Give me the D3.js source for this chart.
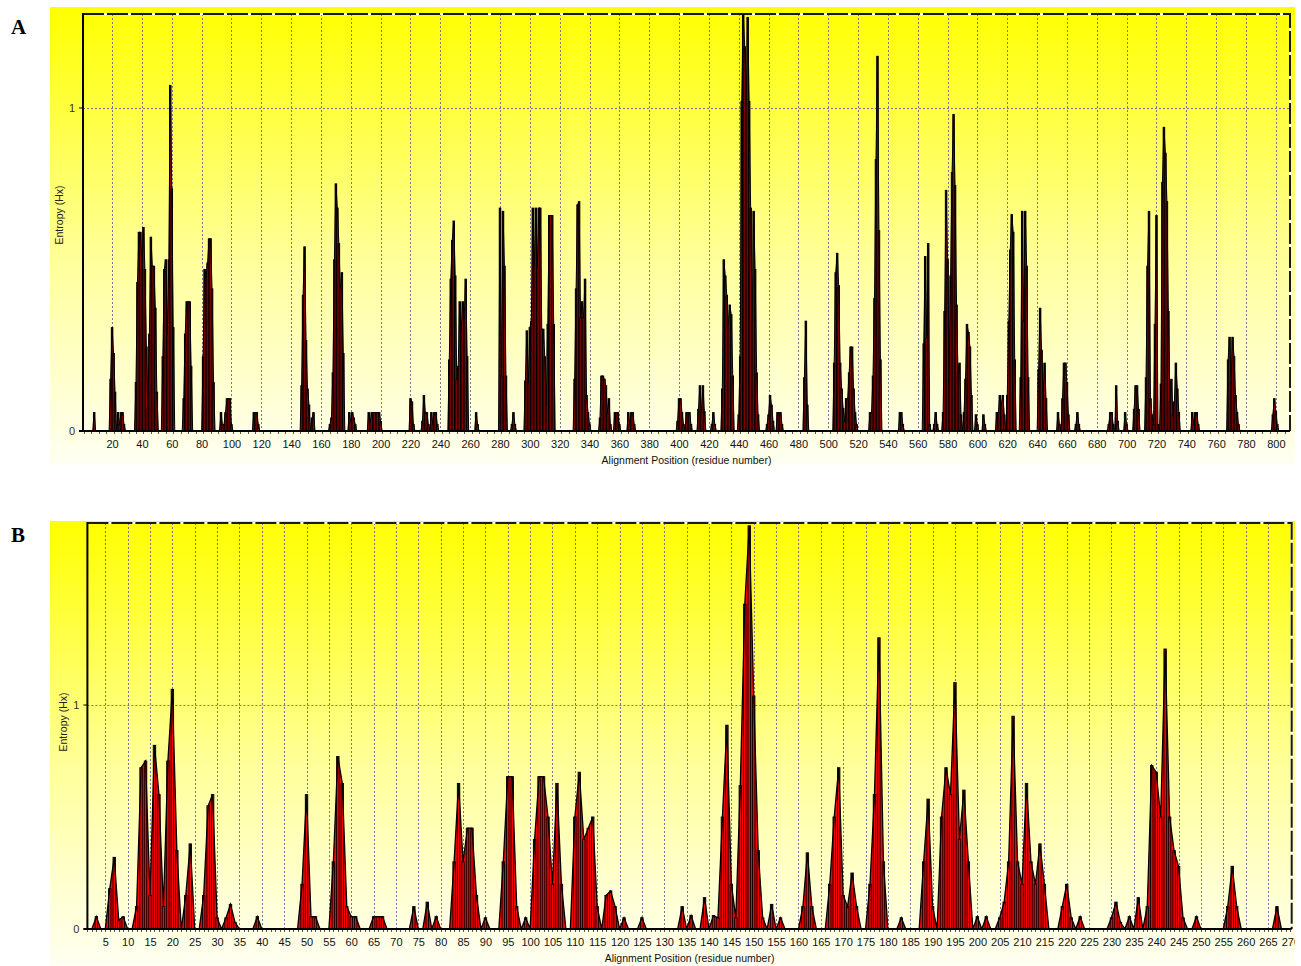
<!DOCTYPE html>
<html>
<head>
<meta charset="utf-8">
<script src="https://cdn.jsdelivr.net/npm/d3@7"></script>
<style>
  body { margin: 0; background: #fff; }
  svg { display: block; font-family: "Liberation Sans", Arial, sans-serif; }
</style>
</head>
<body>
<svg id="chart" width="1301" height="966"></svg>
<script>
// Panel A: entropy per alignment position (non-zero positions only)
const entropyA = [
  [8,0.057],
  [19,0.16],[20,0.32],[21,0.24],[22,0.12],
  [24,0.057],[25,0.02],[26,0.057],[27,0.057],[28,0.02],
  [36,0.15],[37,0.46],[38,0.615],[39,0.615],[40,0.5],[41,0.63],[42,0.5],[43,0.26],[44,0.07],
  [45,0.30],[46,0.6],[47,0.51],[48,0.51],[49,0.38],[50,0.12],
  [54,0.23],[55,0.5],[56,0.53],[57,0.3],[58,0.53],[59,1.07],[60,0.75],[61,0.32],
  [68,0.1],[69,0.3],[70,0.4],[71,0.4],[72,0.4],[73,0.2],
  [81,0.23],[82,0.5],[83,0.48],[84,0.52],[85,0.595],[86,0.595],[87,0.44],[88,0.15],
  [93,0.057],[94,0.02],[95,0.02],[96,0.057],[97,0.1],[98,0.1],[99,0.1],[100,0.02],
  [115,0.057],[116,0.057],[117,0.057],[118,0.02],
  [147,0.14],[148,0.42],[149,0.57],[150,0.28],[151,0.13],[152,0.08],
  [154,0.04],[155,0.057],
  [166,0.02],[167,0.04],[168,0.18],[169,0.53],[170,0.765],[171,0.69],[172,0.58],[173,0.44],[174,0.49],[175,0.24],
  [179,0.057],[180,0.03],[181,0.057],[182,0.04],[183,0.02],
  [192,0.057],[193,0.03],[194,0.057],[195,0.057],[196,0.057],[197,0.057],[198,0.057],[199,0.057],[200,0.03],
  [220,0.1],[221,0.09],[222,0.02],
  [228,0.03],[229,0.11],[230,0.057],[231,0.057],[232,0.02],
  [234,0.057],[235,0.02],[236,0.057],[237,0.057],[238,0.02],
  [246,0.22],[247,0.47],[248,0.59],[249,0.65],[250,0.48],[251,0.16],
  [252,0.2],[253,0.4],[254,0.31],[255,0.4],[256,0.35],[257,0.47],[258,0.23],
  [264,0.057],[265,0.02],
  [280,0.69],[281,0.17],[282,0.68],[283,0.51],[284,0.17],
  [288,0.02],[289,0.057],[290,0.02],
  [297,0.155],[298,0.31],[299,0.15],[300,0.32],[301,0.34],[302,0.69],[303,0.51],[304,0.69],[305,0.51],
  [306,0.69],[307,0.69],[308,0.315],[309,0.315],[310,0.23],[311,0.08],
  [312,0.33],[313,0.667],[314,0.667],[315,0.667],[316,0.33],
  [330,0.16],[331,0.44],[332,0.70],[333,0.71],[334,0.35],[335,0.40],[336,0.35],[337,0.47],[338,0.11],[339,0.057],[340,0.02],
  [347,0.04],[348,0.17],[349,0.17],[350,0.16],[351,0.14],[352,0.057],[353,0.1],[354,0.02],
  [357,0.057],[358,0.057],[359,0.057],[360,0.02],
  [366,0.057],[367,0.02],[368,0.057],[369,0.057],[370,0.02],
  [399,0.03],[400,0.1],[401,0.1],[402,0.057],[403,0.02],
  [405,0.057],[406,0.057],[407,0.057],[408,0.02],
  [413,0.067],[414,0.14],[415,0.06],[416,0.14],[417,0.06],
  [422,0.02],[423,0.057],[424,0.02],
  [429,0.13],[430,0.53],[431,0.48],[432,0.42],[433,0.33],[434,0.39],[435,0.36],[436,0.17],
  [440,0.05],[441,0.23],[442,1.02],[443,1.29],[444,1.19],[445,1.01],[446,1.28],[447,1.02],[448,0.69],
  [449,0.34],[450,0.68],[451,0.5],[452,0.18],[453,0.05],
  [459,0.02],[460,0.05],[461,0.11],[462,0.08],[463,0.03],
  [466,0.057],[467,0.057],[468,0.057],[469,0.02],
  [484,0.165],[485,0.34],[486,0.08],
  [504,0.21],[505,0.49],[506,0.55],[507,0.45],[508,0.21],[509,0.13],[510,0.07],[511,0.03],[512,0.1],
  [513,0.1],[514,0.18],[515,0.26],[516,0.26],[517,0.13],[518,0.057],[519,0.02],
  [528,0.057],[529,0.057],[530,0.17],[531,0.41],[532,0.84],[533,1.16],[534,0.62],[535,0.22],
  [548,0.057],[549,0.057],[550,0.02],
  [564,0.27],[565,0.54],[566,0.29],[567,0.58],[568,0.02],
  [571,0.02],[572,0.057],[573,0.02],
  [577,0.057],[578,0.37],[579,0.745],[580,0.53],[581,0.155],[582,0.48],[583,0.8],[584,0.98],[585,0.76],
  [586,0.39],[587,0.18],[588,0.21],[589,0.05],
  [591,0.057],[592,0.16],[593,0.33],[594,0.305],[595,0.26],[596,0.11],
  [599,0.05],[600,0.02],[604,0.05],[605,0.02],
  [613,0.057],[614,0.057],[615,0.11],[616,0.08],[617,0.11],[618,0.05],
  [620,0.11],[621,0.34],[622,0.56],[623,0.67],[624,0.615],[625,0.22],
  [629,0.165],[630,0.68],[631,0.34],[632,0.68],[633,0.51],[634,0.165],
  [641,0.19],[642,0.38],[643,0.25],[644,0.1],[645,0.21],[646,0.1],
  [654,0.057],[655,0.02],
  [657,0.1],[658,0.21],[659,0.21],[660,0.15],[661,0.05],
  [666,0.02],[667,0.057],[668,0.02],
  [688,0.02],[689,0.057],[690,0.057],[691,0.02],[693,0.14],[694,0.03],
  [699,0.057],[700,0.02],
  [705,0.067],[706,0.14],[707,0.14],[708,0.067],
  [713,0.165],[714,0.51],[715,0.68],[716,0.1],[717,0.05],[718,0.02],[719,0.33],[720,0.667],[721,0.02],
  [723,0.145],[724,0.77],[725,0.94],[726,0.86],[727,0.71],[728,0.37],[729,0.09],[730,0.16],[731,0.05],
  [732,0.09],[733,0.21],[734,0.13],[735,0.057],
  [744,0.057],[745,0.02],[746,0.057],[747,0.057],[748,0.02],
  [768,0.22],[769,0.29],[770,0.15],[771,0.29],[772,0.23],[773,0.11],[774,0.057],[775,0.02],
  [798,0.05],[799,0.1],[800,0.06],[801,0.02]
];

// Panel B
const entropyB = [
  [3,0.055],
  [6,0.18],[7,0.32],[8,0.04],[9,0.055],
  [12,0.1],[13,0.72],[14,0.75],[15,0.15],[16,0.82],[17,0.6],[18,0.1],[19,0.75],[20,1.07],[21,0.35],
  [23,0.15],[24,0.38],
  [27,0.15],[28,0.55],[29,0.6],[30,0.05],
  [32,0.05],[33,0.11],[34,0.03],
  [39,0.055],
  [49,0.2],[50,0.6],[51,0.055],[52,0.055],
  [56,0.3],[57,0.77],[58,0.65],[59,0.1],[60,0.055],[61,0.055],
  [65,0.055],[66,0.055],[67,0.055],
  [74,0.1],[77,0.12],[79,0.055],
  [83,0.3],[84,0.65],[85,0.3],[86,0.45],[87,0.45],[88,0.15],
  [90,0.05],
  [94,0.3],[95,0.68],[96,0.68],[97,0.1],
  [99,0.05],
  [101,0.4],[102,0.68],[103,0.68],[104,0.5],[105,0.2],[106,0.65],[107,0.2],
  [110,0.5],[111,0.7],[112,0.4],[113,0.45],[114,0.5],[115,0.1],
  [117,0.15],[118,0.17],[119,0.1],
  [121,0.05],[125,0.05],
  [134,0.1],[136,0.06],[139,0.14],[141,0.06],
  [142,0.05],[143,0.5],[144,0.91],[145,0.2],
  [146,0.05],[147,0.64],[148,1.45],[149,1.80],[150,1.04],[151,0.35],[152,0.05],
  [154,0.11],[156,0.05],
  [161,0.1],[162,0.34],[163,0.1],
  [167,0.2],[168,0.5],[169,0.72],[170,0.15],[171,0.1],[172,0.25],[173,0.1],
  [176,0.2],[177,0.6],[178,1.3],[179,0.3],
  [183,0.05],
  [188,0.3],[189,0.58],[190,0.1],
  [192,0.5],[193,0.72],[194,0.6],[195,1.1],[196,0.4],[197,0.62],[198,0.3],
  [200,0.055],[202,0.055],
  [205,0.05],[206,0.12],[207,0.3],[208,0.95],[209,0.3],[210,0.2],[211,0.65],[212,0.3],
  [213,0.2],[214,0.38],[215,0.2],
  [219,0.1],[220,0.2],[221,0.05],[223,0.055],
  [230,0.05],[231,0.12],[232,0.03],[234,0.055],[236,0.14],
  [238,0.1],[239,0.73],[240,0.7],[241,0.5],[242,1.25],[243,0.5],[244,0.35],[245,0.28],[246,0.05],
  [249,0.055],
  [256,0.1],[257,0.28],[258,0.1],
  [267,0.1]
];

const ticksA = d3.range(20, 801, 20);
const ticksB = d3.range(5, 271, 5);
const yTicks = [0, 1];

const svg = d3.select("#chart");
const defs = svg.append("defs");

const grad = defs.append("linearGradient")
  .attr("id", "bgGrad").attr("x1", 0).attr("y1", 0).attr("x2", 0).attr("y2", 1);
grad.append("stop").attr("offset", "0%").attr("stop-color", "#ffff00");
grad.append("stop").attr("offset", "55%").attr("stop-color", "#ffff9a");
grad.append("stop").attr("offset", "100%").attr("stop-color", "#fffff2");

function expand(pairs, n) {
  const m = new Map(pairs);
  return d3.range(1, n + 1).map((p) => ({ pos: p, v: m.get(p) || 0 }));
}

function drawPanel(cfg) {
  const g = svg.append("g");
  const clipId = "clip" + cfg.label;
  defs.append("clipPath").attr("id", clipId)
    .append("rect")
    .attr("x", cfg.bg.x).attr("y", cfg.bg.y)
    .attr("width", cfg.bg.w).attr("height", cfg.bg.h);

  g.append("rect")
    .attr("x", cfg.bg.x).attr("y", cfg.bg.y)
    .attr("width", cfg.bg.w).attr("height", cfg.bg.h)
    .attr("fill", "url(#bgGrad)");

  const p = cfg.plot;
  const x = d3.scaleLinear().domain(cfg.xDomain).range([p.left, p.right]);
  const y = d3.scaleLinear().domain([0, cfg.yMax]).range([p.bottom, p.top]);

  // grid
  g.append("g").selectAll("line").data(cfg.ticks.filter((d) => x(d) < p.right - 3)).join("line")
    .attr("x1", (d) => Math.round(x(d)) + 0.5).attr("x2", (d) => Math.round(x(d)) + 0.5)
    .attr("y1", p.top).attr("y2", p.bottom)
    .attr("stroke", "#76769a").attr("stroke-width", 1).attr("stroke-dasharray", "2,2");
  g.append("line")
    .attr("x1", p.left).attr("x2", p.right)
    .attr("y1", Math.round(y(1)) + 0.5).attr("y2", Math.round(y(1)) + 0.5)
    .attr("stroke", "#76769a").attr("stroke-width", 1).attr("stroke-dasharray", "2,2");

  // frame: dashed top and right
  g.append("path")
    .attr("d", `M${p.left},${p.top}H${p.right}V${p.bottom}`)
    .attr("fill", "none").attr("stroke", "#fff").attr("stroke-width", 2);
  g.append("path")
    .attr("d", `M${p.left},${p.top}H${p.right}V${p.bottom}`)
    .attr("fill", "none").attr("stroke", "#1a1a1a").attr("stroke-width", 2)
    .attr("stroke-dasharray", "21,3");

  const data = expand(cfg.values, cfg.n);
  const line = d3.line().x((d) => x(d.pos)).y((d) => y(d.v));
  const bw = (x(1.5) - x(0.5)) * cfg.barFrac;

  if (cfg.fillArea) {
    g.append("path")
      .datum(data)
      .attr("fill", "#ff0000")
      .attr("d", d3.area().x((d) => x(d.pos)).y0(y(0)).y1((d) => y(d.v)));
  }

  g.append("g").selectAll("rect").data(data.filter((d) => d.v > 0)).join("rect")
    .attr("x", (d) => x(d.pos) - bw / 2)
    .attr("y", (d) => y(d.v))
    .attr("width", bw)
    .attr("height", (d) => y(0) - y(d.v))
    .attr("fill", "#ff0000")
    .attr("stroke", "#000")
    .attr("stroke-width", cfg.barStroke);

  g.append("path")
    .datum(data)
    .attr("fill", "none")
    .attr("stroke", "#000")
    .attr("stroke-width", cfg.lineWidth)
    .attr("d", line);

  // axes lines
  g.append("line")
    .attr("x1", p.left).attr("x2", p.left).attr("y1", p.top - 1).attr("y2", p.bottom)
    .attr("stroke", "#000").attr("stroke-width", 2);
  g.append("line")
    .attr("x1", p.left - 4).attr("x2", p.right).attr("y1", p.bottom).attr("y2", p.bottom)
    .attr("stroke", "#000").attr("stroke-width", 2);

  // minor ticks under the axis
  const minor = d3.range(Math.ceil(cfg.xDomain[0]), cfg.xDomain[1], cfg.minorStep);
  g.append("g").selectAll("line").data(minor).join("line")
    .attr("x1", (d) => Math.round(x(d)) + 0.5).attr("x2", (d) => Math.round(x(d)) + 0.5)
    .attr("y1", p.bottom + 1).attr("y2", p.bottom + 3)
    .attr("stroke", "#555").attr("stroke-width", 1);

  // y ticks
  g.append("g").selectAll("line").data(yTicks).join("line")
    .attr("x1", p.left - 4).attr("x2", p.left)
    .attr("y1", (d) => y(d)).attr("y2", (d) => y(d))
    .attr("stroke", "#000");
  g.append("g").selectAll("text").data(yTicks).join("text")
    .attr("x", p.left - 8).attr("y", (d) => y(d) + 4)
    .attr("text-anchor", "end")
    .attr("font-size", 11).attr("fill", "#3a2f10")
    .text((d) => d);

  // x tick labels (clipped to the panel background)
  const xAxis = d3.axisBottom(x).tickValues(cfg.ticks).tickSize(0).tickPadding(9);
  const clipWrap = g.append("g").attr("clip-path", `url(#${clipId})`);
  const ax = clipWrap.append("g")
    .attr("transform", `translate(0,${p.bottom})`)
    .call(xAxis);
  ax.select(".domain").remove();
  ax.selectAll("text")
    .attr("font-family", "'Liberation Sans', Arial, sans-serif")
    .attr("font-size", 11).attr("fill", "#111");

  g.append("text")
    .attr("x", (p.left + p.right) / 2).attr("y", p.bottom + 33)
    .attr("text-anchor", "middle").attr("font-size", 10.5).attr("fill", "#111")
    .text("Alignment Position (residue number)");

  g.append("text")
    .attr("transform", `translate(${cfg.yLabelX},${cfg.yLabelY}) rotate(-90)`)
    .attr("text-anchor", "middle").attr("font-size", 10.5).attr("fill", "#222")
    .text("Entropy (Hx)");

  svg.append("text")
    .attr("x", 11).attr("y", cfg.labelY)
    .attr("font-family", "'Liberation Serif', 'Times New Roman', serif")
    .attr("font-weight", "bold").attr("font-size", 21)
    .text(cfg.label);
}

drawPanel({
  label: "A", labelY: 34,
  bg: { x: 50, y: 7, w: 1245, h: 458 },
  plot: { left: 83, right: 1290, top: 14, bottom: 431 },
  xDomain: [0.5, 809.5], yMax: 1.291, n: 809,
  ticks: ticksA, minorStep: 5,
  values: entropyA, barFrac: 1, barStroke: 1, lineWidth: 1, fillArea: false,
  yLabelX: 63, yLabelY: 215
});

drawPanel({
  label: "B", labelY: 542,
  bg: { x: 50, y: 521, w: 1245, h: 445 },
  plot: { left: 87.4, right: 1291.7, top: 523, bottom: 929 },
  xDomain: [1, 270.3], yMax: 1.8125, n: 270,
  ticks: ticksB, minorStep: 1,
  values: entropyB, barFrac: 0.55, barStroke: 0.9, lineWidth: 1.3, fillArea: true,
  yLabelX: 67, yLabelY: 722
});
</script>
</body>
</html>
